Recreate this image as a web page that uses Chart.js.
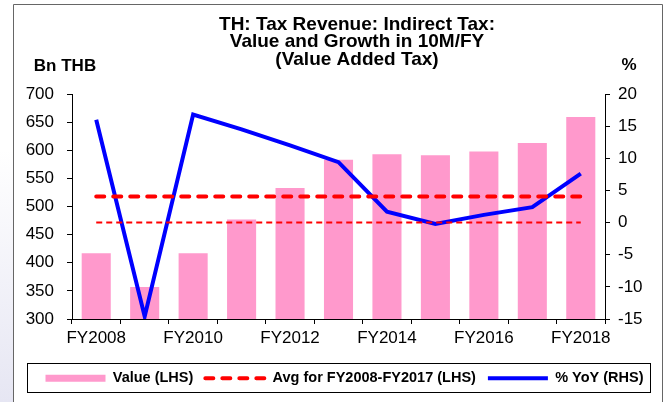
<!DOCTYPE html>
<html>
<head>
<meta charset="utf-8">
<script src="https://cdn.jsdelivr.net/npm/chart.js@4"></script>
<style>
  html, body { margin: 0; padding: 0; background: #fff; }
  #wrap { width: 669px; height: 402px; }
</style>
</head>
<body>
<div id="wrap"><canvas id="myChart" width="669" height="402"></canvas></div>
<script>
const categories = ['FY2008', 'FY2009', 'FY2010', 'FY2011', 'FY2012', 'FY2013', 'FY2014', 'FY2015', 'FY2016', 'FY2017', 'FY2018'];
const valueData = [417, 357, 417, 477, 533, 583, 593, 591, 598, 613, 659];
const yoyData = [16.0, -14.6, 16.8, 14.5, 12.0, 9.4, 1.7, -0.2, 1.2, 2.4, 7.6];
const avgValue = 518;
const zeroLine = 0;
const titleLines = ['TH: Tax Revenue: Indirect Tax:', 'Value and Growth in 10M/FY', '(Value Added Tax)'];

const FONT = "'Liberation Sans', Arial, sans-serif";
Chart.defaults.font.family = FONT;
Chart.defaults.color = '#000';

// frame, titles, axis units and the box round the legend
const decor = {
    id: 'decor',
    beforeDraw(chart) {
        const c = chart.ctx;
        c.save();
        const g = c.createLinearGradient(0, 150, 0, 402);
        g.addColorStop(0, '#ffffff');
        g.addColorStop(1, '#e6e6f3');
        c.fillStyle = g;
        c.fillRect(0, 0, 13, 402);
        c.strokeStyle = '#666';
        c.lineWidth = 1;
        c.beginPath();
        c.moveTo(13.5, 402);
        c.lineTo(13.5, 4.5);
        c.lineTo(662.5, 4.5);
        c.lineTo(662.5, 402);
        c.stroke();
        c.restore();
    },
    afterDraw(chart) {
        const c = chart.ctx;
        c.save();
        c.fillStyle = '#000';
        c.textAlign = 'center';
        c.textBaseline = 'alphabetic';
        c.font = 'bold 19px ' + FONT;
        titleLines.forEach((t, i) => c.fillText(t, 357, 29.5 + i * 17.5));
        c.font = 'bold 17px ' + FONT;
        c.fillText('Bn THB', 65, 71);
        c.fillText('%', 629, 70);
        c.strokeStyle = '#000';
        c.lineWidth = 1;
        c.strokeRect(27.5, 363.5, 623, 29);
        c.restore();
    }
};

new Chart(document.getElementById('myChart'), {
    data: {
        labels: categories,
        datasets: [{
            type: 'bar',
            label: 'Value (LHS)',
            data: valueData,
            backgroundColor: '#ff99cc',
            borderColor: '#ff99cc',
            barPercentage: 0.6,
            categoryPercentage: 1,
            yAxisID: 'y',
            order: 4
        }, {
            type: 'line',
            label: 'Avg for FY2008-FY2017 (LHS)',
            data: categories.map(() => avgValue),
            borderColor: '#ff0000',
            borderWidth: 4,
            borderDash: [8, 9],
            borderCapStyle: 'round',
            pointRadius: 0,
            yAxisID: 'y',
            order: 1
        }, {
            type: 'line',
            label: '% YoY (RHS)',
            data: yoyData,
            borderColor: '#0000ff',
            borderWidth: 4,
            tension: 0,
            pointRadius: 0,
            yAxisID: 'y1',
            order: 3
        }, {
            type: 'line',
            label: 'zero',
            data: categories.map(() => zeroLine),
            borderColor: '#ff0000',
            borderWidth: 2,
            borderDash: [6, 4],
            pointRadius: 0,
            yAxisID: 'y1',
            order: 2
        }]
    },
    options: {
        responsive: false,
        animation: false,
        layout: {
            padding: { top: 94, left: 20, right: 0, bottom: 6.5 }
        },
        scales: {
            x: {
                offset: true,
                grid: { offset: true, drawOnChartArea: false, tickLength: 5, color: '#000' },
                border: { color: '#000' },
                ticks: {
                    autoSkip: false,
                    maxRotation: 0,
                    padding: 4,
                    font: { size: 17 },
                    callback: (v, i) => i % 2 === 0 ? categories[i] : ''
                },
                afterFit: s => { s.height = 40; }
            },
            y: {
                position: 'left',
                min: 300,
                max: 700,
                grid: { drawOnChartArea: false, tickLength: 5, color: '#000' },
                border: { color: '#000' },
                ticks: { stepSize: 50, padding: 13, font: { size: 17 } },
                afterFit: s => { s.width = 52; }
            },
            y1: {
                position: 'right',
                min: -15,
                max: 20,
                grid: { drawOnChartArea: false, tickLength: 5, color: '#000' },
                border: { color: '#000' },
                ticks: { stepSize: 5, padding: 8, font: { size: 17 } },
                afterFit: s => { s.width = 64; }
            }
        },
        plugins: {
            title: { display: false },
            tooltip: { enabled: false },
            legend: {
                position: 'bottom',
                labels: {
                    usePointStyle: true,
                    pointStyleWidth: 60,
                    padding: 12,
                    font: { size: 14.5, weight: 'bold' },
                    generateLabels: chart => chart.data.datasets.slice(0, 3).map((ds, i) => ({
                        text: ds.label,
                        fillStyle: ds.borderColor,
                        strokeStyle: ds.borderColor,
                        lineWidth: ds.type === 'bar' ? 7 : 4,
                        lineDash: ds.borderDash || [],
                        lineCap: ds.borderCapStyle || 'butt',
                        pointStyle: 'line',
                        fontColor: '#000',
                        hidden: false,
                        datasetIndex: i
                    }))
                }
            }
        }
    },
    plugins: [decor]
});
</script>
</body>
</html>
